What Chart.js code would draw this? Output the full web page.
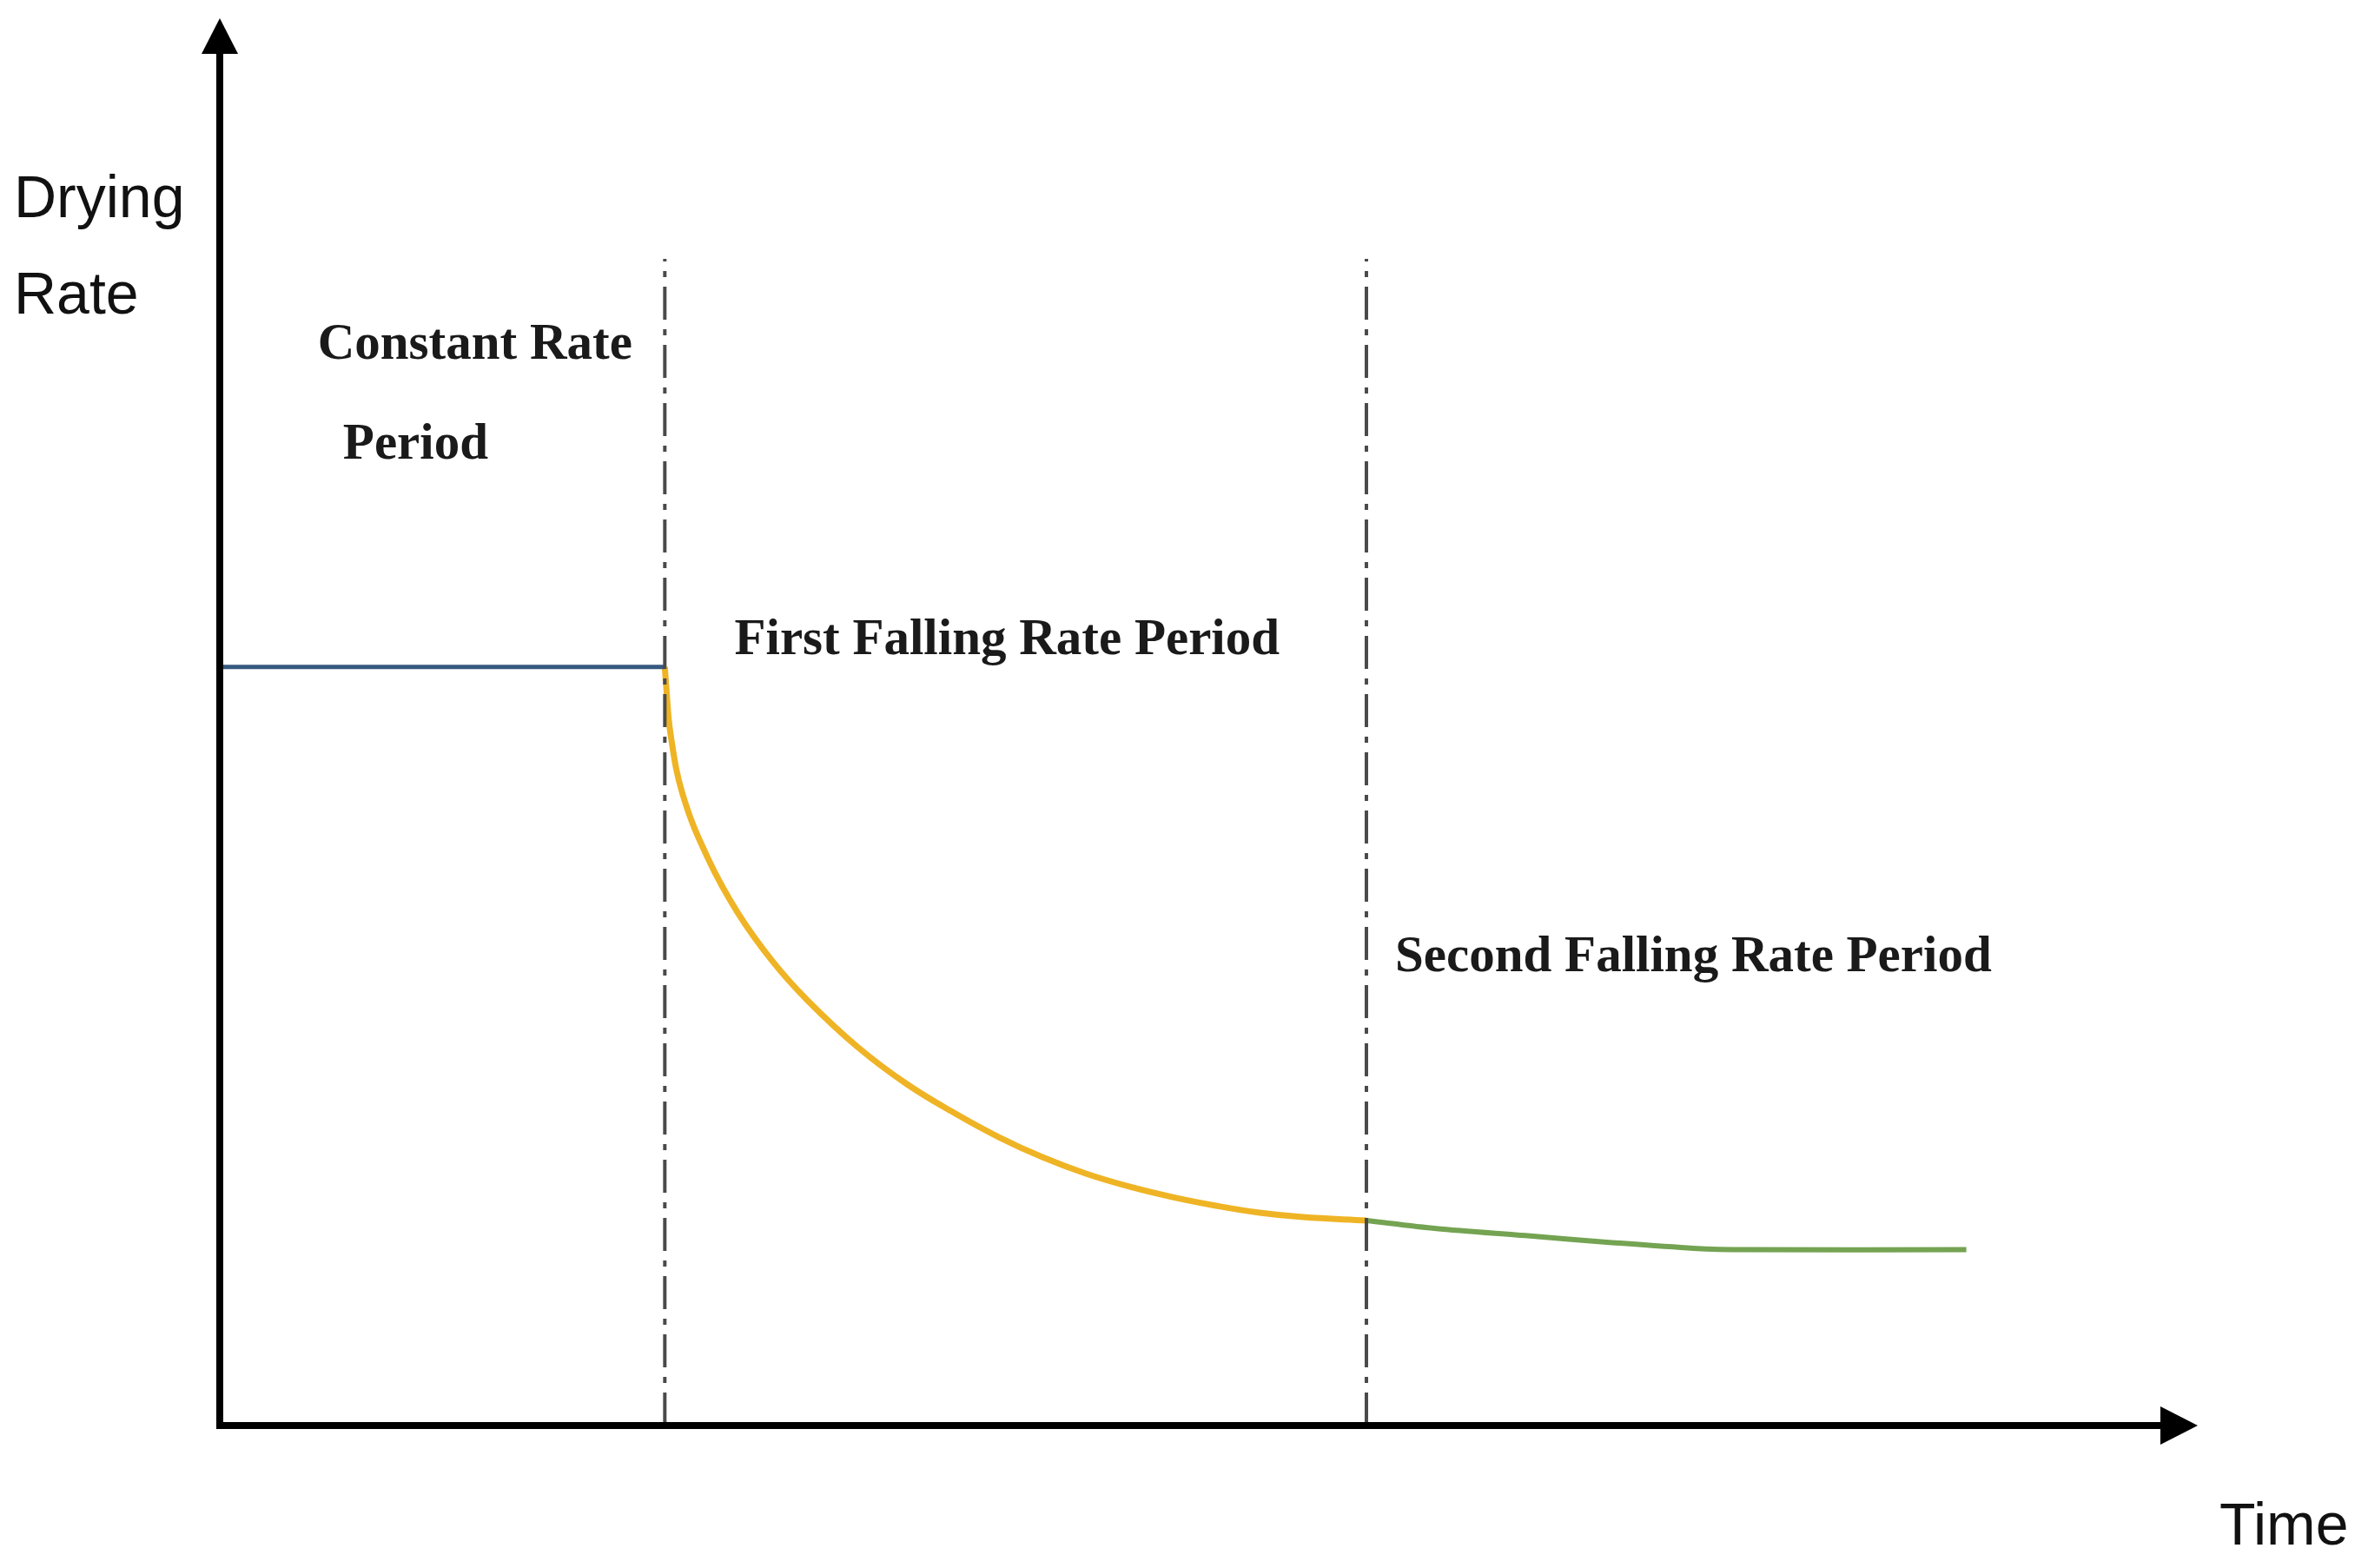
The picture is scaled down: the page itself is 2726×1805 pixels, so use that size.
<!DOCTYPE html>
<html>
<head>
<meta charset="utf-8">
<title>Drying Rate</title>
<script src="https://cdn.jsdelivr.net/npm/chart.js@4.4.1/dist/chart.umd.min.js"></script>
<style>
    html, body { margin: 0; padding: 0; background: #fff; }
    #wrap { width: 2726px; height: 1805px; }
</style>
</head>
<body>
<div id="wrap"><canvas id="dryingChart" width="2726" height="1805"></canvas></div>
<script>
// Constant rate period
var constantX = [0, 22.5];
var constantY = [53.9, 53.9];

// First falling rate period
var firstFallX = [22.5, 22.57, 22.79, 23.41, 24.68, 26.17, 27.93, 29.73, 32.24, 34.74, 37.2, 39.39, 41.59, 43.79, 45.98, 48.18, 50.37, 52.57, 54.76, 57.97];
var firstFallY = [53.9, 52.53, 49.14, 44.81, 40.31, 36.48, 33.02, 30.19, 26.91, 24.26, 22.16, 20.49, 19.07, 17.9, 16.98, 16.23, 15.62, 15.12, 14.81, 14.57];

// Second falling rate period
var secondFallX = [57.97, 61.5, 66.0, 70.4, 74.5, 77.2, 88.3];
var secondFallY = [14.57, 14.0, 13.5, 13.0, 12.6, 12.5, 12.5];

// period boundaries
var dividerX = [22.5, 57.97];
var dividerTop = 82.9;

var periodLabels = ['Constant Rate', 'Period', 'First Falling Rate Period', 'Second Falling Rate Period'];

function toPoints(xs, ys) {
    return xs.map(function(x, i) { return { x: x, y: ys[i] }; });
}

var datasets = [];

dividerX.forEach(function(x) {
    datasets.push({
        data: [{ x: x, y: 0 }, { x: x, y: dividerTop }],
        borderColor: '#4a4a4a',
        borderWidth: 4,
        borderDash: [38, 11, 7, 11],
        pointRadius: 0,
        showLine: true
    });
});

datasets.push({
    data: toPoints(constantX, constantY),
    borderColor: '#36597f',
    borderWidth: 5,
    pointRadius: 0,
    showLine: true
});
datasets.push({
    data: toPoints(firstFallX, firstFallY),
    borderColor: '#efb425',
    borderWidth: 7,
    pointRadius: 0,
    showLine: true,
    tension: 0.4
});
datasets.push({
    data: toPoints(secondFallX, secondFallY),
    borderColor: '#74a352',
    borderWidth: 6,
    pointRadius: 0,
    showLine: true,
    tension: 0.3
});

// where each text label sits, in data units (centre x, baseline y)
var labelSpots = [
    { x: 12.9, y: 75.8 },
    { x: 9.9, y: 68.7 },
    { x: 39.8, y: 54.8 },
    { x: 74.5, y: 32.3 }
];

var axesPlugin = {
    id: 'arrowAxes',
    afterDatasetsDraw: function(chart) {
        var ctx = chart.ctx;
        var xs = chart.scales.x;
        var ys = chart.scales.y;
        var x0 = xs.getPixelForValue(0);
        var y0 = ys.getPixelForValue(0);
        var xEnd = xs.getPixelForValue(xs.max);
        var yEnd = ys.getPixelForValue(ys.max);

        ctx.save();
        ctx.strokeStyle = '#000';
        ctx.fillStyle = '#000';
        ctx.lineWidth = 8;
        ctx.lineCap = 'butt';

        ctx.beginPath();
        ctx.moveTo(x0, y0 + 4);
        ctx.lineTo(x0, yEnd + 36);
        ctx.moveTo(x0 - 4, y0);
        ctx.lineTo(xEnd - 38, y0);
        ctx.stroke();

        // arrow heads
        ctx.beginPath();
        ctx.moveTo(x0, yEnd);
        ctx.lineTo(x0 - 21, yEnd + 41);
        ctx.lineTo(x0 + 21, yEnd + 41);
        ctx.closePath();
        ctx.fill();

        ctx.beginPath();
        ctx.moveTo(xEnd, y0);
        ctx.lineTo(xEnd - 43, y0 - 22);
        ctx.lineTo(xEnd - 43, y0 + 22);
        ctx.closePath();
        ctx.fill();
        ctx.restore();
    },
    afterDraw: function(chart) {
        var ctx = chart.ctx;
        var xs = chart.scales.x;
        var ys = chart.scales.y;

        ctx.save();
        ctx.fillStyle = '#1a1a1a';
        ctx.textBaseline = 'alphabetic';

        ctx.font = 'bold 59px "Liberation Serif", "Times New Roman", serif';
        ctx.textAlign = 'center';
        periodLabels.forEach(function(txt, i) {
            ctx.fillText(txt, xs.getPixelForValue(labelSpots[i].x), ys.getPixelForValue(labelSpots[i].y));
        });

        // axis titles
        var area = chart.chartArea;
        ctx.fillStyle = '#111';
        ctx.font = '68px "Liberation Sans", Arial, sans-serif';
        ctx.textAlign = 'left';
        ctx.fillText('Drying', area.left - 237, area.top + 229);
        ctx.fillText('Rate', area.left - 237, area.top + 340);
        ctx.fillText('Time', area.right + 25, area.bottom + 137);
        ctx.restore();
    }
};

var dryingChart = new Chart(document.getElementById('dryingChart').getContext('2d'), {
    type: 'scatter',
    data: { datasets: datasets },
    options: {
        responsive: false,
        animation: false,
        layout: {
            padding: { left: 253, right: 196, top: 21, bottom: 164 }
        },
        plugins: {
            legend: { display: false },
            tooltip: { enabled: false }
        },
        scales: {
            x: { type: 'linear', min: 0, max: 100, display: false },
            y: { type: 'linear', min: 0, max: 100, display: false }
        }
    },
    plugins: [axesPlugin]
});
</script>
</body>
</html>
